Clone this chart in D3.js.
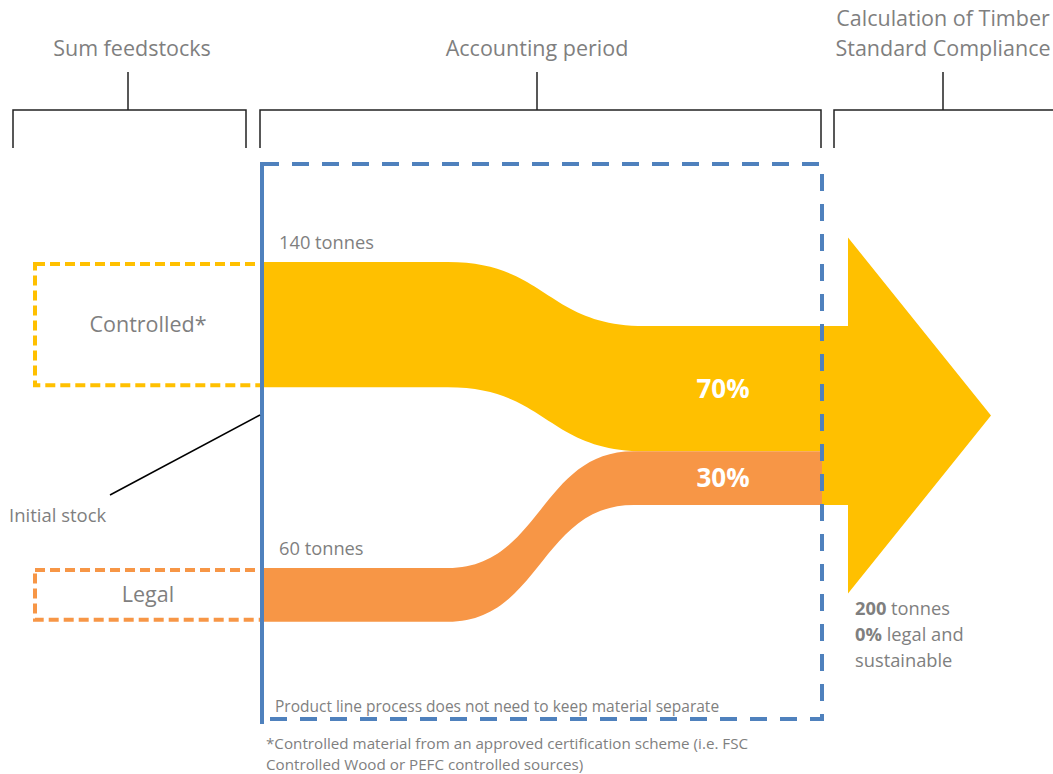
<!DOCTYPE html>
<html>
<head>
<meta charset="utf-8">
<script src="https://cdn.jsdelivr.net/npm/d3@7"></script>
<style>
  body { margin: 0; background: #fff; }
  text { font-family: "Open Sans", Lato, sans-serif; fill: #7f7f7f; }
</style>
</head>
<body>
<div class="chart"></div>
<script>
// data
const flowNames = ["Controlled*", "Legal"];
const flowTonnes = [140, 60];
const flowShares = [70, 30];
const flowColors = ["#ffc000", "#f79646"];
const totalTonnes = 200;
const compliantShare = 0;
const stageTitles = [["Sum feedstocks"], ["Accounting period"], ["Calculation of Timber", "Standard Compliance"]];

const width = 1053;
const height = 774;
const blue = "#4f81bd";

const svg = d3.select(".chart")
  .append("svg")
  .attr("width", width)
  .attr("height", height);

// tonnes -> band thickness
const thick = d3.scaleLinear().domain([0, totalTonnes]).range([0, 179]);

// x positions along the process
const x = d3.scaleLinear().domain([0, 1]).range([262, 825]);

// brackets on top
const brackets = [[13, 246, 128], [260, 821, 537], [834, 1060, 943]];
brackets.forEach((b, i) => {
  svg.append("path")
    .attr("d", `M${b[0]},148 V110 H${b[1]} V148 M${b[2]},110 V72`)
    .attr("fill", "none")
    .attr("stroke", "#222")
    .attr("stroke-width", 1.5);
  const t = svg.append("text")
    .attr("text-anchor", "middle")
    .attr("font-size", 21.5);
  const lines = stageTitles[i];
  lines.forEach((l, j) => {
    t.append("tspan")
      .attr("x", i === 2 ? 943 : b[2] + (i === 0 ? 4 : 0))
      .attr("y", lines.length === 1 ? 56 : 26 + j * 30)
      .text(l);
  });
});

// input boxes
const inputTop = [262, 568];
const boxes = svg.append("g");
flowNames.forEach((n, i) => {
  const h = thick(flowTonnes[i]);
  boxes.append("rect")
    .attr("x", 35)
    .attr("y", inputTop[i] + 2)
    .attr("width", 227)
    .attr("height", h - 4)
    .attr("fill", "none")
    .attr("stroke", flowColors[i])
    .attr("stroke-width", 4)
    .attr("stroke-dasharray", "10,5");
  boxes.append("text")
    .attr("x", 148)
    .attr("y", inputTop[i] + h / 2 + 7)
    .attr("text-anchor", "middle")
    .attr("font-size", 21.5)
    .text(n);
});

// flows
const outTop = 326;
const outStarts = d3.cumsum([0, ...flowTonnes]).map(v => outTop + thick(v));
const bend = [[0.33, 0.68], [0.33, 0.66]];

const area = d3.area()
  .x(d => d.x)
  .y0(d => d.y)
  .y1(d => d.y + d.h)
  .curve(d3.curveBumpX);

flowNames.forEach((n, i) => {
  const h = thick(flowTonnes[i]);
  const pts = [
    { x: x(0), y: inputTop[i], h },
    { x: x(bend[i][0]), y: inputTop[i], h },
    { x: x(bend[i][1]), y: outStarts[i], h },
    { x: x(1), y: outStarts[i], h }
  ];
  svg.append("path")
    .attr("d", area(pts))
    .attr("fill", flowColors[i]);
  svg.append("text")
    .attr("x", 279)
    .attr("y", inputTop[i] - 13)
    .attr("font-size", 18.3)
    .text(`${flowTonnes[i]} tonnes`);
});

// output arrow
const a0 = outTop, a1 = outTop + thick(totalTonnes);
const mid = (a0 + a1) / 2;
const arrow = [
  [x(1) - 3, a0], [848, a0], [848, mid - 178], [991, mid],
  [848, mid + 178], [848, a1], [x(1) - 3, a1]
];
svg.append("path")
  .attr("d", d3.line()(arrow) + "Z")
  .attr("fill", flowColors[0]);

// percentages
flowNames.forEach((n, i) => {
  const h = thick(flowTonnes[i]);
  const cy = outStarts[i] + h / 2 + 9;
  svg.append("text")
    .attr("x", 723)
    .attr("y", cy)
    .attr("text-anchor", "middle")
    .attr("font-size", 26)
    .attr("font-weight", "bold")
    .style("fill", "#fff")
    .text(`${flowShares[i]}%`);
});

// accounting period box
svg.append("path")
  .attr("d", "M262,164 H822 V719 H262")
  .attr("fill", "none")
  .attr("stroke", blue)
  .attr("stroke-width", 4)
  .attr("stroke-dasharray", "17,13");
svg.append("line")
  .attr("x1", 262).attr("x2", 262)
  .attr("y1", 162).attr("y2", 724)
  .attr("stroke", blue)
  .attr("stroke-width", 4);

svg.append("text")
  .attr("x", 275)
  .attr("y", 712)
  .attr("font-size", 15.5)
  .text("Product line process does not need to keep material separate");

// initial stock callout
svg.append("line")
  .attr("x1", 110).attr("y1", 495)
  .attr("x2", 260).attr("y2", 415)
  .attr("stroke", "#000")
  .attr("stroke-width", 1.5);
svg.append("text")
  .attr("x", 9)
  .attr("y", 522)
  .attr("font-size", 18.5)
  .text("Initial stock");

// result text
const res = svg.append("text").attr("font-size", 18.3);
res.append("tspan").attr("x", 855).attr("y", 615).attr("font-weight", "bold").text(totalTonnes);
res.append("tspan").text(" tonnes");
res.append("tspan").attr("x", 855).attr("y", 641).attr("font-weight", "bold").text(`${compliantShare}%`);
res.append("tspan").text(" legal and");
res.append("tspan").attr("x", 855).attr("y", 667).text("sustainable");

// footnote
const fn = svg.append("text").attr("font-size", 15.2);
fn.append("tspan").attr("x", 266).attr("y", 749)
  .text("*Controlled material from an approved certification scheme (i.e. FSC");
fn.append("tspan").attr("x", 266).attr("y", 770)
  .text("Controlled Wood or PEFC controlled sources)");
</script>
</body>
</html>
